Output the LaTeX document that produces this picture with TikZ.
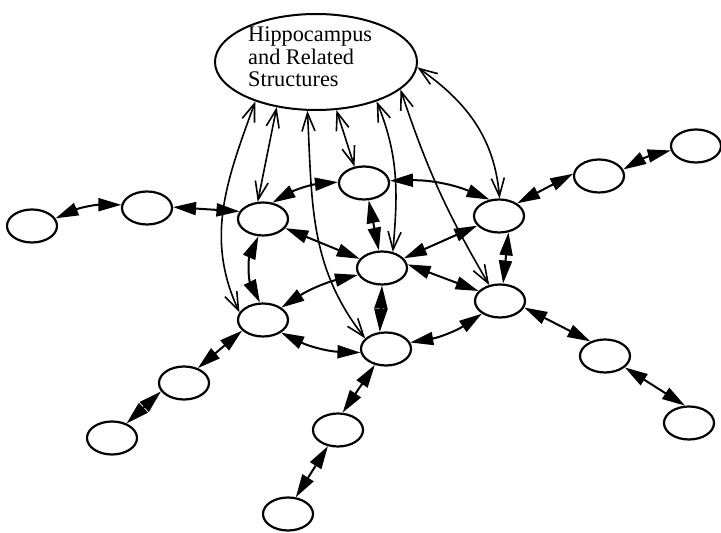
\documentclass[tikz,border=0pt]{standalone}
\usepackage{fontspec}
\setmainfont{Liberation Serif}
\usetikzlibrary{arrows.meta,shapes.geometric}

\begin{document}
\begin{tikzpicture}[x=1pt,y=1pt,
  cell/.style={ellipse,draw,line width=2.2pt,minimum width=50pt,minimum height=33pt,inner sep=0pt},
  hub/.style={ellipse,draw,line width=2pt,minimum width=202pt,minimum height=96pt,inner sep=0pt},
  hubtext/.style={align=left,inner sep=0pt,font=\fontsize{22.3}{22.5}\selectfont},
  link/.style={line width=2pt,{Triangle[length=23pt,width=13pt]}-{Triangle[length=23pt,width=13pt]}},
  feed/.style={line width=1.6pt,{Straight Barb[length=18pt,width=13pt]}-{Straight Barb[length=18pt,width=13pt]}},
]
\useasboundingbox (0,0) rectangle (721,533);

% hub
\node[hub] (hip) at (316,471) {};
\node[hubtext,anchor=north west] (hiplabel) at (248,506) {Hippocampus\\and Related\\Structures};

% cells
\node[cell] (A) at (32,307) {};
\node[cell] (B) at (147,325) {};
\node[cell] (C) at (263,314) {};
\node[cell] (D) at (364,350) {};
\node[cell] (E) at (499,317) {};
\node[cell] (F) at (599,357) {};
\node[cell] (G) at (696,387) {};
\node[cell] (H) at (382,265) {};
\node[cell] (I) at (263,213) {};
\node[cell] (J) at (500,232) {};
\node[cell] (K) at (386,184) {};
\node[cell] (L) at (184,150) {};
\node[cell] (M) at (112,95) {};
\node[cell] (N) at (338,103) {};
\node[cell] (O) at (288,19) {};
\node[cell] (P) at (605,177) {};
\node[cell] (Q) at (689,110) {};

% reciprocal links between cells
\draw[link] (A.18) to[bend left=12] (B.173);
\draw[link] (B.2) -- (C.162);
\draw[link] (C.60) to[bend left=12] (D.178);
\draw[link] (D.5) to[bend left=12] (E.120);
\draw[link] (D.-75) -- (H.100);
\draw[link] (C) -- (H);
\draw[link] (E) -- (H);
\draw[link] (I.100) to[bend left=25] (C.255);
\draw[link] (H.196) to[bend right=10] (I.34);
\draw[link] (H.8) -- (J.155);
\draw[link] (E.-60) -- (J.80);
\draw[link] (H.south) -- (K.110);
\draw[link] (I.-35) to[bend right=12] (K.188);
\draw[link] (J.215) to[bend left=12] (K.15);
\draw[link] (E.35) -- (F.175);
\draw[link] (F.15) to[bend left=8] (G.190);
\draw[link] (J.-15) -- (P.135);
\draw[link] (P.-30) -- (Q.103);
\draw[link] (I.207) -- (L.47);
\draw[link] (L.200) -- (M.45);
\draw[link] (K.235) -- (N.75);
\draw[link] (N.238) -- (O.65);

% links to and from the hub
\draw[feed] (hip.213) to[out=250,in=115] (I.162);
\draw[feed] (hip.229) -- (C.107);
\draw[feed] (hip.260) to[out=273,in=128] (K.153);
\draw[feed] (hip.293) -- (D.120);
\draw[feed] (hip.327) to[out=292,in=85] (H.56);
\draw[feed] (hip.342) to[bend right=6] (J.124);
\draw[feed] (hip.357) to[out=-35,in=95] (E.88);
\end{tikzpicture}
\end{document}
